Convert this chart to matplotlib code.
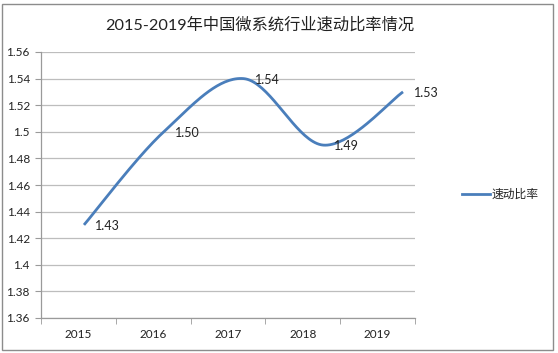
import numpy as np
import matplotlib
matplotlib.use("Agg")
import matplotlib.pyplot as plt
from matplotlib.patches import Rectangle

years = ["2015", "2016", "2017", "2018", "2019"]
values = [1.43, 1.50, 1.54, 1.49, 1.53]
value_labels = ["1.43", "1.50", "1.54", "1.49", "1.53"]
yticks = [1.36, 1.38, 1.40, 1.42, 1.44, 1.46, 1.48, 1.50, 1.52, 1.54, 1.56]
ytick_labels = ["1.36", "1.38", "1.4", "1.42", "1.44", "1.46", "1.48", "1.5", "1.52", "1.54", "1.56"]
title = "2015-2019年中国微系统行业速动比率情况"
series_name = "速动比率"

FAM = ["Lato", "Noto Sans CJK SC", "DejaVu Sans"]
plt.rcParams["font.family"] = FAM

W, H = 558, 353
fig = plt.figure(figsize=(W / 100, H / 100), dpi=100)
fig.patch.set_facecolor("white")

# outer frame
fig.patches.append(Rectangle((2 / W, 3 / H), (553 - 2) / W, (349 - 3) / H,
                             transform=fig.transFigure, fill=False,
                             edgecolor="#8c8c8c", linewidth=1.0))

left, right, top, bottom = 41, 415, 52, 318
ax = fig.add_axes([left / W, 1 - bottom / H, (right - left) / W, (bottom - top) / H])
n = len(years)
ax.set_xlim(-0.5, n - 0.5)
ax.set_ylim(1.36, 1.56)
ax.set_yticks(yticks)
ax.set_yticklabels(ytick_labels, fontsize=8.5, color="#222222")
ax.set_xticks(range(n))
ax.set_xticklabels(years, fontsize=8.5, color="#222222")
ax.set_xticks(np.arange(-0.5, n, 1.0), minor=True)
ax.tick_params(axis="x", which="major", length=0, pad=8)
ax.tick_params(axis="x", which="minor", length=4, color="#9a9a9a", direction="out")
ax.tick_params(axis="y", length=4, color="#9a9a9a", direction="out", pad=4)
ax.grid(axis="y", color="#bdbdbd", linewidth=0.9)
ax.set_axisbelow(True)
for s in ["top", "right"]:
    ax.spines[s].set_visible(False)
for s in ["left", "bottom"]:
    ax.spines[s].set_color("#9a9a9a")
    ax.spines[s].set_linewidth(0.9)

# line on a twin x scale (line points are spread slightly wider than categories)
ax2 = ax.twiny()
ax2.set_xlim(-0.539, 4.15)
ax2.set_ylim(1.36, 1.56)
ax2.axis("off")

x = np.arange(n, dtype=float)
y = np.array(values)
# Bezier smoothing like Excel smoothed line
px = np.concatenate([[x[0]], x, [x[-1]]])
py = np.concatenate([[y[0]], y, [y[-1]]])
cx, cy = [], []
t = np.linspace(0, 1, 40)
for i in range(n - 1):
    p0 = np.array([px[i + 1], py[i + 1]])
    p3 = np.array([px[i + 2], py[i + 2]])
    b1 = p0 + (np.array([px[i + 2], py[i + 2]]) - np.array([px[i], py[i]])) / 6
    b2 = p3 - (np.array([px[i + 3], py[i + 3]]) - np.array([px[i + 1], py[i + 1]])) / 6
    pts = ((1 - t) ** 3)[:, None] * p0 + (3 * (1 - t) ** 2 * t)[:, None] * b1 \
        + (3 * (1 - t) * t ** 2)[:, None] * b2 + (t ** 3)[:, None] * p3
    cx.extend(pts[:, 0]); cy.extend(pts[:, 1])
ax2.plot(cx, cy, color="#4a7ebb", linewidth=2.0, solid_capstyle="butt")

for xi, yi, lab in zip(x, y, value_labels):
    ax2.annotate(lab, (xi, yi), xytext=(11, -1), textcoords="offset pixels",
                 ha="left", va="center", fontsize=9, color="#222222")

fig.text(260 / W, 1 - 25 / H, title, ha="center", va="center", fontsize=11.7,
         color="#222222", family=FAM)

# legend
lx0, lx1, ly = 462, 490, 194
fig.add_artist(plt.Line2D([lx0 / W, lx1 / W], [1 - ly / H, 1 - ly / H],
                          transform=fig.transFigure, color="#4a7ebb", linewidth=2.0))
fig.text(492 / W, 1 - ly / H, series_name, ha="left", va="center", fontsize=8.5,
         color="#222222", family=FAM)

fig.savefig("out.png", dpi=100, facecolor="white")
